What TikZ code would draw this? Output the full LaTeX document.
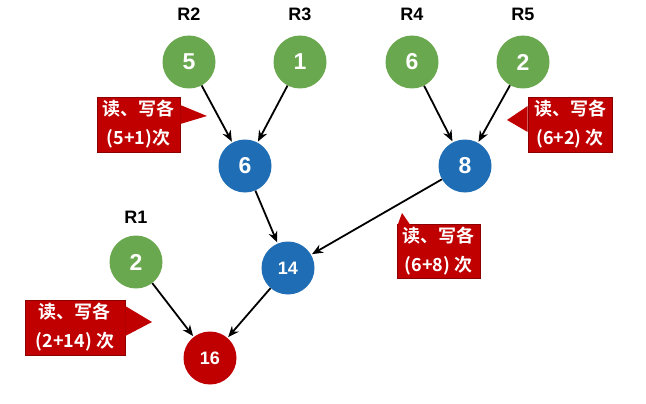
\documentclass[tikz,border=0pt]{standalone}
\usepackage{fontspec}
\setmainfont{Liberation Sans}
\newfontfamily\cjk{Noto Sans CJK SC}[BoldFont={* Bold}]
\usetikzlibrary{arrows.meta}
\definecolor{leafgreen}{HTML}{6AA84F}
\definecolor{midblue}{HTML}{1F6DB4}
\definecolor{rootred}{HTML}{C00000}
\definecolor{callred}{HTML}{C00000}
\definecolor{calledge}{HTML}{8E0000}
\tikzset{
  ball/.style={circle, minimum size=53pt, inner sep=0pt, text=white, font=\fontsize{23}{23}\selectfont\bfseries},
  leaf/.style={ball, fill=leafgreen},
  mid/.style={ball, fill=midblue},
  root/.style={ball, fill=rootred},
  small/.style={font=\fontsize{18}{18}\selectfont\bfseries},
  rlabel/.style={font=\fontsize{18}{18}\selectfont\bfseries, text=black},
  callbox/.style={fill=callred, draw=calledge, line width=0.6pt, text=white, align=center, inner sep=0pt,
     font=\cjk\bfseries\fontsize{18}{29}\selectfont},
  pointer/.style={fill=callred},
  link/.style={-{Stealth[length=11pt,width=9pt]}, line width=1.8pt, black, shorten >=1pt}
}
\begin{document}
\begin{tikzpicture}[x=1pt,y=-1pt]
\useasboundingbox (0,0) rectangle (646,404);
% leaves
\node[leaf] (r2) at (189,62) {5};
\node[leaf] (r3) at (300,62) {1};
\node[leaf] (r4) at (412,62) {6};
\node[leaf] (r5) at (523,62) {2};
\node[leaf] (r1) at (136,262) {2};
\node[rlabel] (lr2) at (189,14) {R2};
\node[rlabel] (lr3) at (300,14) {R3};
\node[rlabel] (lr4) at (412,14) {R4};
\node[rlabel] (lr5) at (523,14) {R5};
\node[rlabel] (lr1) at (136,217) {R1};
% internal
\node[mid] (n6) at (245,166) {6};
\node[mid] (n8) at (465,166) {8};
\node[mid, small] (n14) at (288,268) {14};
\node[root, small] (n16) at (210,358) {16};
% links
\draw[link] (r2) -- (n6);
\draw[link] (r3) -- (n6);
\draw[link] (r4) -- (n8);
\draw[link] (r5) -- (n8);
\draw[link] (n6) -- (n14);
\draw[link] (n8) -- (n14);
\draw[link] (r1) -- (n16);
\draw[link] (n14) -- (n16);
% callouts
\node[callbox, minimum width=83pt, minimum height=55pt] (c1) at (138.5,124.5) {读、写各\\(5+1)次};
\fill[pointer] (c1.east |- 0,105) -- (207,116) -- (c1.east |- 0,124) -- cycle;
\node[callbox, minimum width=84pt, minimum height=55pt] (c2) at (570,124.5) {读、写各\\(6+2) 次};
\fill[pointer] (c2.west |- 0,106) -- (507,120) -- (c2.west |- 0,132) -- cycle;
\node[callbox, minimum width=83pt, minimum height=54pt] (c3) at (438.5,251.5) {读、写各\\(6+8) 次};
\fill[pointer] (397.3,226) -- (402,213) -- (411,226) -- cycle;
\node[callbox, minimum width=100pt, minimum height=55pt] (c4) at (75,327.5) {读、写各\\(2+14) 次};
\fill[pointer] (c4.east |- 0,306) -- (152,322) -- (c4.east |- 0,336) -- cycle;
\end{tikzpicture}
\end{document}
